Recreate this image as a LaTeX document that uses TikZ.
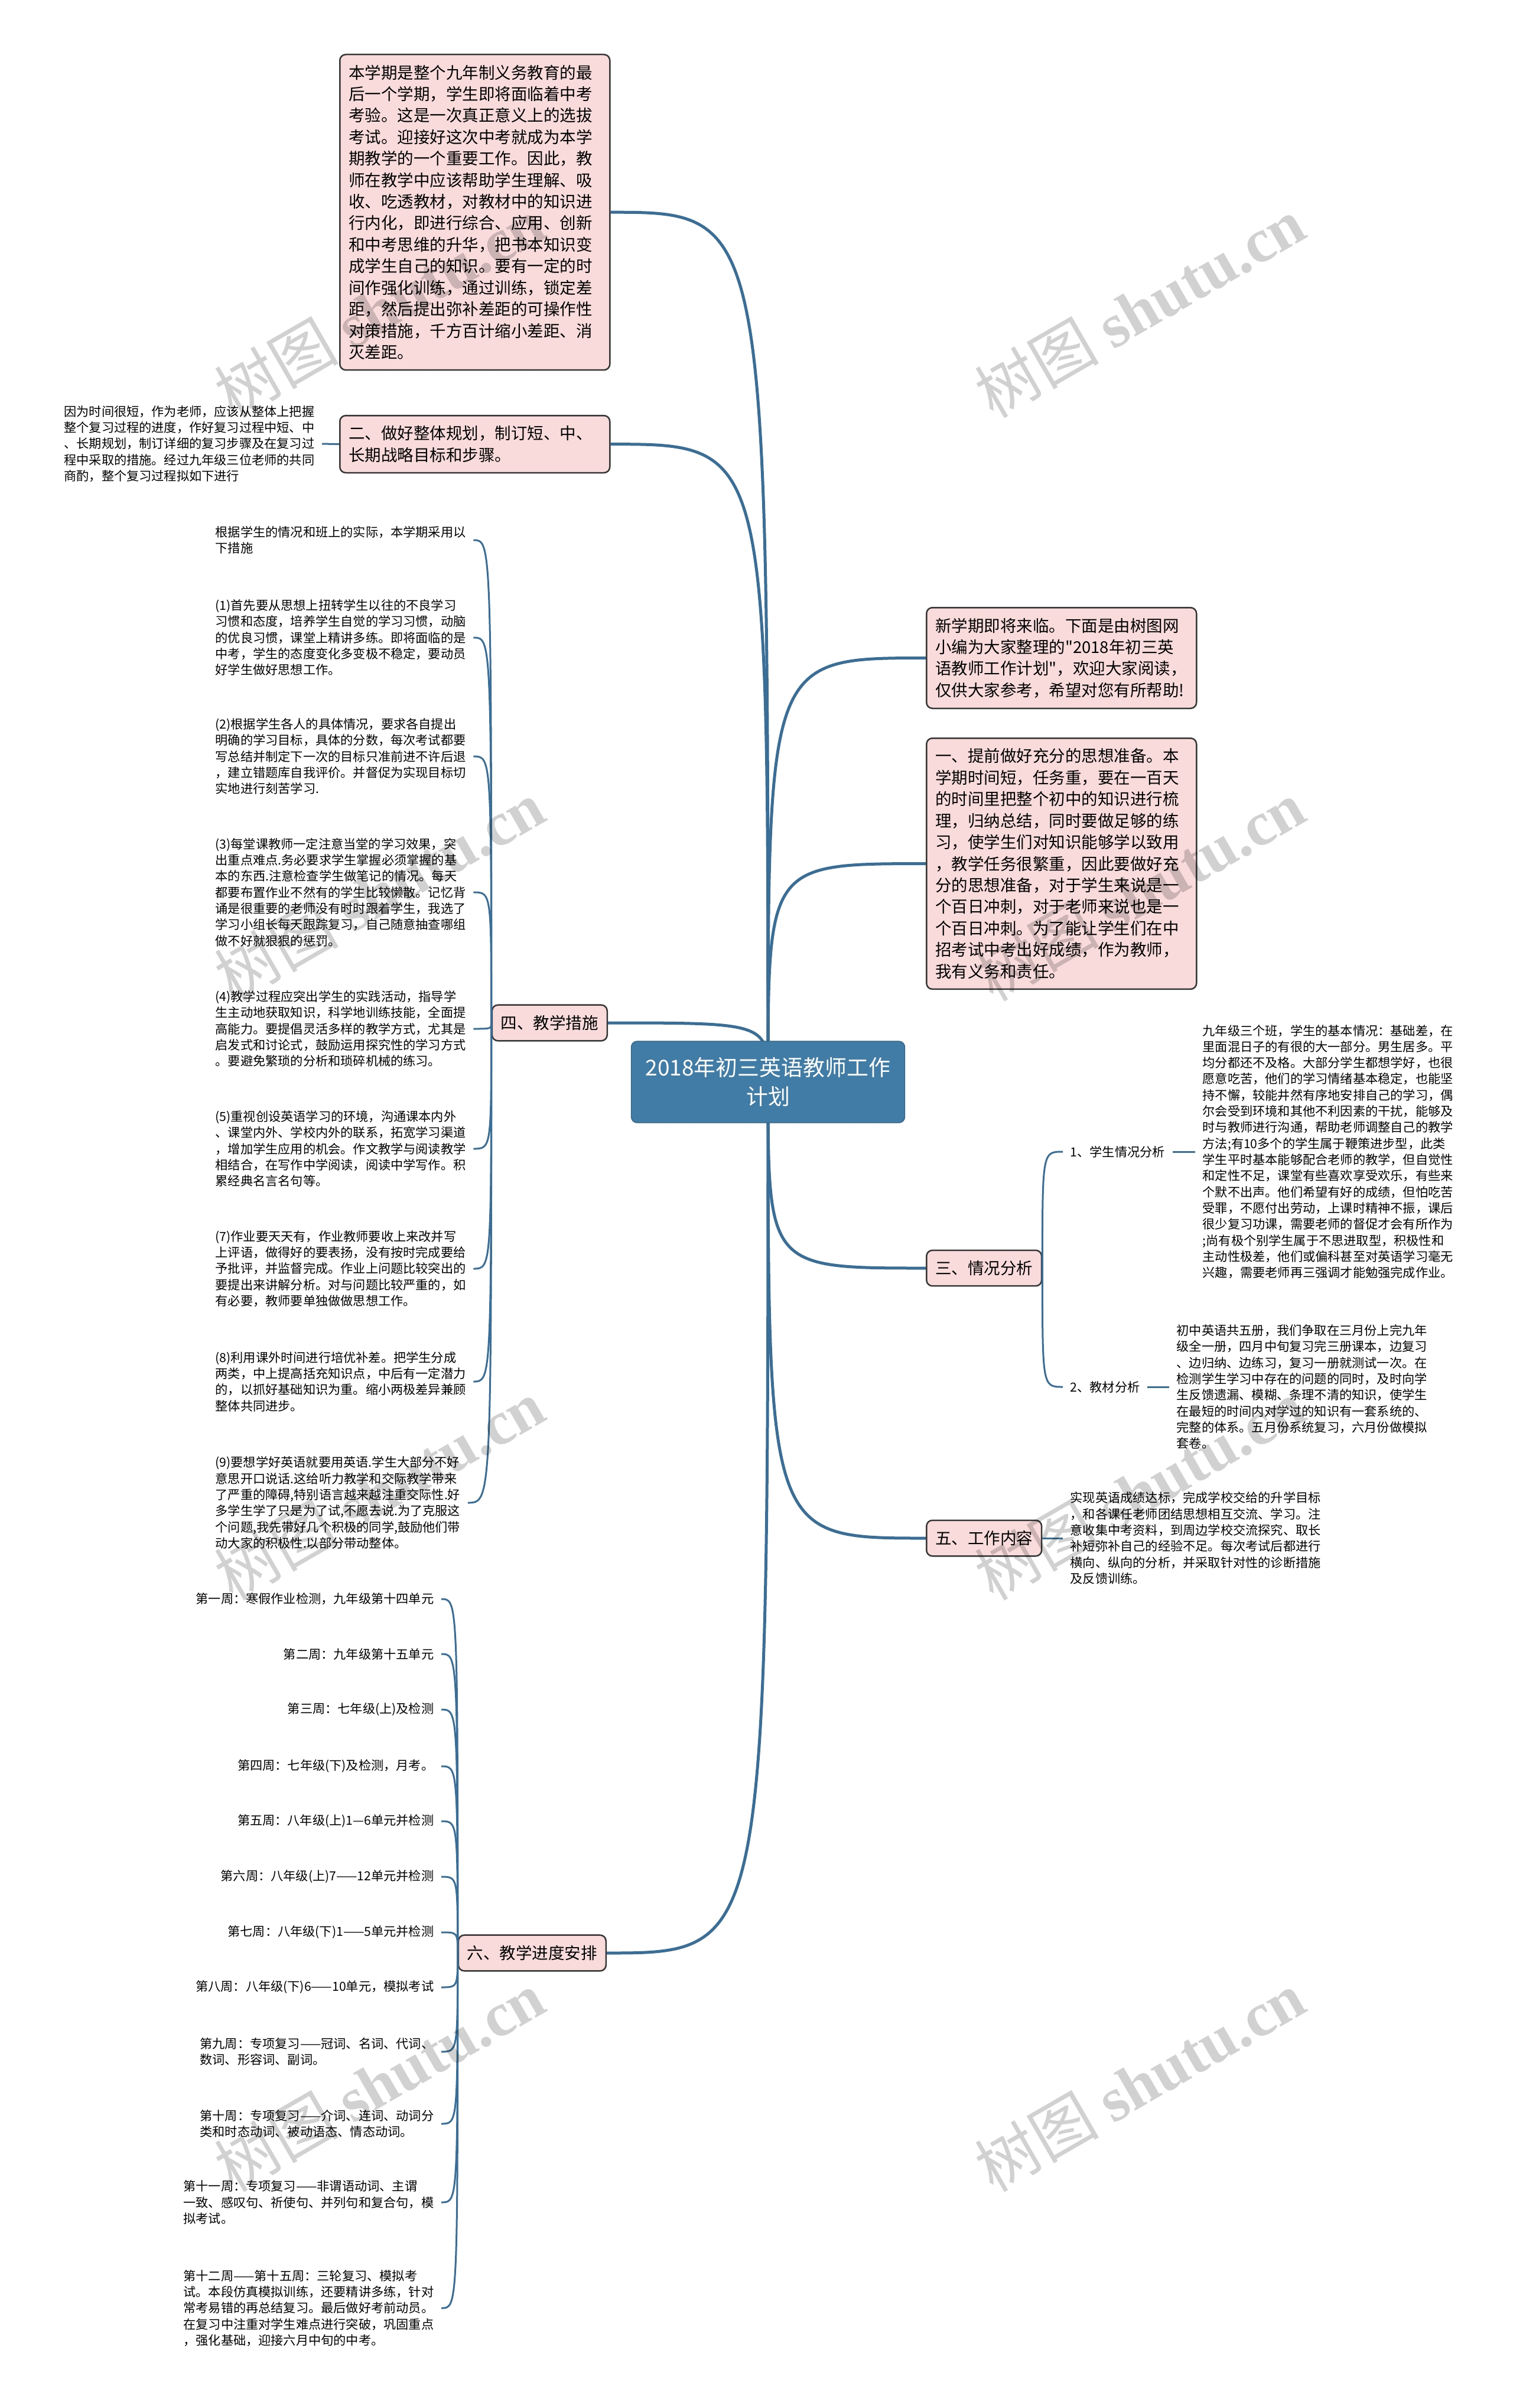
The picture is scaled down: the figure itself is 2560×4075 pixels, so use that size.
\documentclass[tikz,border=0pt]{standalone}
\usepackage{fontspec}
\setmainfont{Noto Sans CJK SC}[Ligatures=TeXOff]
\newfontfamily\wmserif{Liberation Serif}
\usetikzlibrary{backgrounds}
\definecolor{mapblue}{RGB}{64,124,166}
\definecolor{linkblue}{RGB}{58,110,150}
\definecolor{boxpink}{RGB}{250,219,219}
\definecolor{boxline}{RGB}{55,55,55}
\newcommand{\bigtxt}{\fontsize{7.82pt}{10.36pt}\selectfont}
\newcommand{\smalltxt}{\fontsize{6.03pt}{7.77pt}\selectfont}

\begin{document}
\begin{tikzpicture}[x=0.1mm, y=-0.1mm,
	topic/.style={draw=boxline, fill=boxpink, line width=0.25mm, rounded corners=1mm, font=\bigtxt, inner xsep=1.5mm, inner ysep=1.75mm, align=left},
	wide/.style={topic, text width=42.7mm},
	leaf/.style={font=\smalltxt, align=left, inner xsep=1.2mm, inner ysep=0.5mm},
	link/.style={draw=linkblue, line width=0.5mm},
	twig/.style={draw=linkblue, line width=0.3mm},
	wmark/.style={text=black, text opacity=0.18, font=\fontsize{30pt}{30pt}\selectfont, rotate=30}]
	\begin{scope}[on background layer]
		\path[use as bounding box, fill=white] (0,0) rectangle (2560,4075);
	\end{scope}

	\node[draw=mapblue!80!black, fill=mapblue, text=white, rounded corners=1mm, minimum width=46.3mm, minimum height=13.8mm, align=center, font=\fontsize{10.5pt}{13.9pt}\selectfont] (main) at (1300,1831) {2018年初三英语教师工作\\计划};

	\node[wide, anchor=north west] (goal) at (574,91) {本学期是整个九年制义务教育的最\\后一个学期，学生即将面临着中考\\考验。这是一次真正意义上的选拔\\考试。迎接好这次中考就成为本学\\期教学的一个重要工作。因此，教\\师在教学中应该帮助学生理解、吸\\收、吃透教材，对教材中的知识进\\行内化，即进行综合、应用、创新\\和中考思维的升华，把书本知识变\\成学生自己的知识。要有一定的时\\间作强化训练，通过训练，锁定差\\距，然后提出弥补差距的可操作性\\对策措施，千方百计缩小差距、消\\灭差距。};
	\node[wide, anchor=north west] (plan) at (574,702) {二、做好整体规划，制订短、中、\\长期战略目标和步骤。};
	\node[leaf, anchor=east] (plannote) at (545,751) {因为时间很短，作为老师，应该从整体上把握\\整个复习过程的进度，作好复习过程中短、中\\、长期规划，制订详细的复习步骤及在复习过\\程中采取的措施。经过九年级三位老师的共同\\商酌，整个复习过程拟如下进行};

	\node[topic, anchor=east] (measure) at (1029,1731) {四、教学措施};
	\node[leaf, anchor=west] (m0) at (352,914) {根据学生的情况和班上的实际，本学期采用以\\下措施};
	\node[leaf, anchor=west] (m1) at (352,1079) {(1)首先要从思想上扭转学生以往的不良学习\\习惯和态度，培养学生自觉的学习习惯，动脑\\的优良习惯，课堂上精讲多练。即将面临的是\\中考，学生的态度变化多变极不稳定，要动员\\好学生做好思想工作。};
	\node[leaf, anchor=west] (m2) at (352,1280) {(2)根据学生各人的具体情况，要求各自提出\\明确的学习目标，具体的分数，每次考试都要\\写总结并制定下一次的目标只准前进不许后退\\，建立错题库自我评价。并督促为实现目标切\\实地进行刻苦学习.};
	\node[leaf, anchor=west] (m3) at (352,1510) {(3)每堂课教师一定注意当堂的学习效果，突\\出重点难点.务必要求学生掌握必须掌握的基\\本的东西.注意检查学生做笔记的情况。每天\\都要布置作业不然有的学生比较懒散。记忆背\\诵是很重要的老师没有时时跟着学生，我选了\\学习小组长每天跟踪复习，自己随意抽查哪组\\做不好就狠狠的惩罚。};
	\node[leaf, anchor=west] (m4) at (352,1741) {(4)教学过程应突出学生的实践活动，指导学\\生主动地获取知识，科学地训练技能，全面提\\高能力。要提倡灵活多样的教学方式，尤其是\\启发式和讨论式，鼓励运用探究性的学习方式\\。要避免繁琐的分析和琐碎机械的练习。};
	\node[leaf, anchor=west] (m5) at (352,1944) {(5)重视创设英语学习的环境，沟通课本内外\\、课堂内外、学校内外的联系，拓宽学习渠道\\，增加学生应用的机会。作文教学与阅读教学\\相结合，在写作中学阅读，阅读中学写作。积\\累经典名言名句等。};
	\node[leaf, anchor=west] (m7) at (352,2147) {(7)作业要天天有，作业教师要收上来改并写\\上评语，做得好的要表扬，没有按时完成要给\\予批评，并监督完成。作业上问题比较突出的\\要提出来讲解分析。对与问题比较严重的，如\\有必要，教师要单独做做思想工作。};
	\node[leaf, anchor=west] (m8) at (352,2338) {(8)利用课外时间进行培优补差。把学生分成\\两类，中上提高括充知识点，中后有一定潜力\\的，以抓好基础知识为重。缩小两极差异兼顾\\整体共同进步。};
	\node[leaf, anchor=west] (m9) at (352,2543) {(9)要想学好英语就要用英语.学生大部分不好\\意思开口说话.这给听力教学和交际教学带来\\了严重的障碍,特别语言越来越注重交际性.好\\多学生学了只是为了试,不愿去说.为了克服这\\个问题,我先带好几个积极的同学,鼓励他们带\\动大家的积极性.以部分带动整体。};

	\node[topic, anchor=east] (sched) at (1027,3305) {六、教学进度安排};
	\node[leaf, anchor=east] (w1) at (747,2706) {第一周：寒假作业检测，九年级第十四单元};
	\node[leaf, anchor=east] (w2) at (747,2799) {第二周：九年级第十五单元};
	\node[leaf, anchor=east] (w3) at (747,2893) {第三周：七年级(上)及检测};
	\node[leaf, anchor=east] (w4) at (747,2989) {第四周：七年级(下)及检测，月考。};
	\node[leaf, anchor=east] (w5) at (747,3082) {第五周：八年级(上)1—6单元并检测};
	\node[leaf, anchor=east] (w6) at (747,3176) {第六周：八年级(上)7——12单元并检测};
	\node[leaf, anchor=east] (w7) at (747,3270) {第七周：八年级(下)1——5单元并检测};
	\node[leaf, anchor=east] (w8) at (747,3363) {第八周：八年级(下)6——10单元，模拟考试};
	\node[leaf, anchor=east] (w9) at (747,3472) {第九周：专项复习——冠词、名词、代词、\\数词、形容词、副词。};
	\node[leaf, anchor=east] (w10) at (747,3594) {第十周：专项复习——介词、连词、动词分\\类和时态动词、被动语态、情态动词。};
	\node[leaf, anchor=east] (w11) at (747,3727) {第十一周：专项复习——非谓语动词、主谓\\一致、感叹句、祈使句、并列句和复合句，模\\拟考试。};
	\node[leaf, anchor=east] (w12) at (747,3906) {第十二周——第十五周：三轮复习、模拟考\\试。本段仿真模拟训练，还要精讲多练，针对\\常考易错的再总结复习。最后做好考前动员。\\在复习中注重对学生难点进行突破，巩固重点\\，强化基础，迎接六月中旬的中考。};

	\node[wide, anchor=north west] (lead) at (1567,1027) {新学期即将来临。下面是由树图网\\小编为大家整理的"2018年初三英\\语教师工作计划"，欢迎大家阅读，\\仅供大家参考，希望对您有所帮助!};
	\node[wide, anchor=north west] (prep) at (1567,1248) {一、提前做好充分的思想准备。本\\学期时间短，任务重，要在一百天\\的时间里把整个初中的知识进行梳\\理，归纳总结，同时要做足够的练\\习，使学生们对知识能够学以致用\\，教学任务很繁重，因此要做好充\\分的思想准备，对于学生来说是一\\个百日冲刺，对于老师来说也是一\\个百日冲刺。为了能让学生们在中\\招考试中考出好成绩，作为教师，\\我有义务和责任。};

	\node[topic, anchor=west] (status) at (1567,2146) {三、情况分析};
	\node[leaf, anchor=west] (pupils) at (1799,1949) {1、学生情况分析};
	\node[leaf, anchor=west] (pupilsnote) at (2023,1949) {九年级三个班，学生的基本情况：基础差，在\\里面混日子的有很的大一部分。男生居多。平\\均分都还不及格。大部分学生都想学好，也很\\愿意吃苦，他们的学习情绪基本稳定，也能坚\\持不懈，较能井然有序地安排自己的学习，偶\\尔会受到环境和其他不利因素的干扰，能够及\\时与教师进行沟通，帮助老师调整自己的教学\\方法;有10多个的学生属于鞭策进步型，此类\\学生平时基本能够配合老师的教学，但自觉性\\和定性不足，课堂有些喜欢享受欢乐，有些来\\个默不出声。他们希望有好的成绩，但怕吃苦\\受罪，不愿付出劳动，上课时精神不振，课后\\很少复习功课，需要老师的督促才会有所作为\\;尚有极个别学生属于不思进取型，积极性和\\主动性极差，他们或偏科甚至对英语学习毫无\\兴趣，需要老师再三强调才能勉强完成作业。};
	\node[leaf, anchor=west] (books) at (1799,2347) {2、教材分析};
	\node[leaf, anchor=west] (booksnote) at (1979,2347) {初中英语共五册，我们争取在三月份上完九年\\级全一册，四月中旬复习完三册课本，边复习\\、边归纳、边练习，复习一册就测试一次。在\\检测学生学习中存在的问题的同时，及时向学\\生反馈遗漏、模糊、条理不清的知识，使学生\\在最短的时间内对学过的知识有一套系统的、\\完整的体系。五月份系统复习，六月份做模拟\\套卷。};

	\node[topic, anchor=west] (work) at (1567,2603) {五、工作内容};
	\node[leaf, anchor=west] (worknote) at (1799,2603) {实现英语成绩达标，完成学校交给的升学目标\\，和各课任老师团结思想相互交流、学习。注\\意收集中考资料，到周边学校交流探究、取长\\补短弥补自己的经验不足。每次考试后都进行\\横向、纵向的分析，并采取针对性的诊断措施\\及反馈训练。};

	\begin{scope}[on background layer]
		\foreach \n in {goal,plan,measure,sched}
			\draw[link] (main.center) .. controls (main.center |- \n.east) .. (\n.east);
		\foreach \n in {lead,prep,status,work}
			\draw[link] (main.center) .. controls (main.center |- \n.west) .. (\n.west);
	\end{scope}
	\foreach \n in {m0,m1,m2,m3,m4,m5,m7,m8,m9}
		\draw[twig] (measure.west) .. controls (measure.west |- \n.east) .. (\n.east);
	\foreach \n in {w1,w2,w3,w4,w5,w6,w7,w8,w9,w10,w11,w12}
		\draw[twig] (sched.west) .. controls (sched.west |- \n.east) .. (\n.east);
	\foreach \n in {pupils,books}
		\draw[twig] (status.east) .. controls (status.east |- \n.west) .. (\n.west);
	\draw[twig] (plan.west) -- (plannote.east);
	\draw[twig] (pupils.east) -- (pupilsnote.west);
	\draw[twig] (books.east) -- (booksnote.west);
	\draw[twig] (work.east) -- (worknote.west);

	\foreach \wx in {642,1929}
		\foreach \wy in {520,1507,2521,3522}
			\node[wmark] (wm-\wx-\wy) at (\wx,\wy) {树图 {\wmserif\bfseries shutu.cn}};
\end{tikzpicture}
\end{document}
